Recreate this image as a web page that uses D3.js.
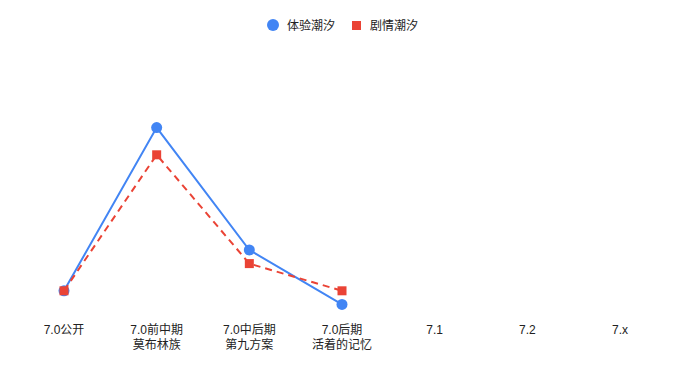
<!DOCTYPE html>
<html>
<head>
<meta charset="utf-8">
<script src="https://cdn.jsdelivr.net/npm/d3@7"></script>
<style>
  body { margin: 0; background: #fff; }
  text { font-family: "Liberation Sans", Arial, "Noto Sans CJK SC", sans-serif; fill: #222; }
</style>
</head>
<body>
<div id="chart"></div>
<script>
  // categories, first line and second line of each tick label
  var categories = ['7.0公开', '7.0前中期', '7.0中后期', '7.0后期', '7.1', '7.2', '7.x'];
  var subLabels = ['', '莫布林族', '第九方案', '活着的记忆', '', '', ''];

  // series values (only the first four periods have data)
  var experience = [2, 14, 5, 1];
  var story = [2, 12, 4, 2];

  var width = 685, height = 371;

  var svg = d3.select('#chart')
    .append('svg')
    .attr('width', width)
    .attr('height', height);

  var x = d3.scalePoint()
    .domain(categories)
    .range([64, 620]);

  var y = d3.scaleLinear()
    .domain([0, 20])
    .range([318, 46]);

  // x axis labels, no line or ticks
  var labels = svg.append('g');
  categories.forEach(function(c, i) {
    var t = labels.append('text')
      .attr('x', x(c))
      .attr('y', 334)
      .attr('text-anchor', 'middle')
      .style('font-size', '12px');
    t.append('tspan').attr('x', x(c)).text(c);
    if (subLabels[i]) {
      t.append('tspan').attr('x', x(c)).attr('dy', 15).text(subLabels[i]);
    }
  });

  var line = d3.line()
    .x(function(d, i) { return x(categories[i]); })
    .y(function(d) { return y(d); });

  // blue series
  svg.append('path')
    .datum(experience)
    .attr('d', line)
    .attr('fill', 'none')
    .attr('stroke', '#4285f4')
    .attr('stroke-width', 2);

  svg.selectAll('circle.exp')
    .data(experience)
    .enter()
    .append('circle')
    .attr('class', 'exp')
    .attr('cx', function(d, i) { return x(categories[i]); })
    .attr('cy', function(d) { return y(d); })
    .attr('r', 5.5)
    .attr('fill', '#4285f4');

  // red series, dashed
  svg.append('path')
    .datum(story)
    .attr('d', line)
    .attr('fill', 'none')
    .attr('stroke', '#ea4335')
    .attr('stroke-width', 2)
    .attr('stroke-dasharray', '7,5');

  svg.selectAll('rect.story')
    .data(story)
    .enter()
    .append('rect')
    .attr('class', 'story')
    .attr('x', function(d, i) { return x(categories[i]) - 4.5; })
    .attr('y', function(d) { return y(d) - 4.5; })
    .attr('width', 9)
    .attr('height', 9)
    .attr('fill', '#ea4335');

  // legend
  var legend = svg.append('g');
  legend.append('circle')
    .attr('cx', 273).attr('cy', 25).attr('r', 6)
    .attr('fill', '#4285f4');
  legend.append('text')
    .attr('x', 287).attr('y', 29.5)
    .style('font-size', '12px')
    .text('体验潮汐');
  legend.append('rect')
    .attr('x', 352).attr('y', 21).attr('width', 9).attr('height', 9)
    .attr('fill', '#ea4335');
  legend.append('text')
    .attr('x', 370).attr('y', 29.5)
    .style('font-size', '12px')
    .text('剧情潮汐');
</script>
</body>
</html>
